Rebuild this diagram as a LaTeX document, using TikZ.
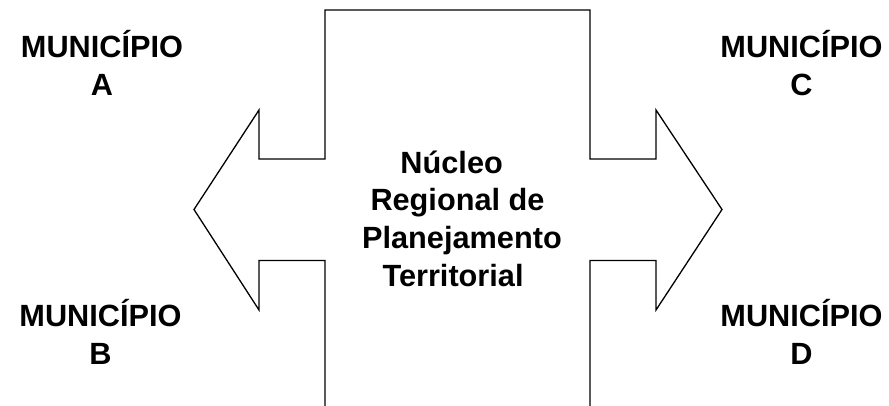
\documentclass[tikz,border=0pt]{standalone}
\usepackage{fontspec}
\setmainfont{Liberation Sans}
\begin{document}
\begin{tikzpicture}[x=1pt,y=-1pt,
  outline/.style={draw=black,line width=1.3pt,line join=miter},
  lbl/.style={font=\bfseries\fontsize{30.7}{38}\selectfont,align=center,inner sep=0pt,anchor=base}]
\useasboundingbox (0,0) rectangle (889,406);
\draw[outline] (325,410) -- (325,260.5) -- (259,260.5) -- (259,310) -- (194,209.5)
  -- (259,110) -- (259,159) -- (325,159) -- (325,10) -- (590,10) -- (590,159)
  -- (656,159) -- (656,110) -- (722,209.5) -- (656,310) -- (656,260.5)
  -- (590,260.5) -- (590,410);
\node[lbl] (nucleo) at (457.5,287) {Núcleo\hspace*{0.38em}\\Regional de\hspace*{0.21em}\\\hspace*{0.29em}Planejamento\\Territorial\hspace*{0.29em}};
\node[lbl] (ma) at (102,95.5) {MUNICÍPIO\\A};
\node[lbl] (mc) at (801.5,95.5) {MUNICÍPIO\\C};
\node[lbl] (mb) at (100.5,364) {MUNICÍPIO\\B};
\node[lbl] (md) at (801.5,364) {MUNICÍPIO\\D};
\end{tikzpicture}
\end{document}
